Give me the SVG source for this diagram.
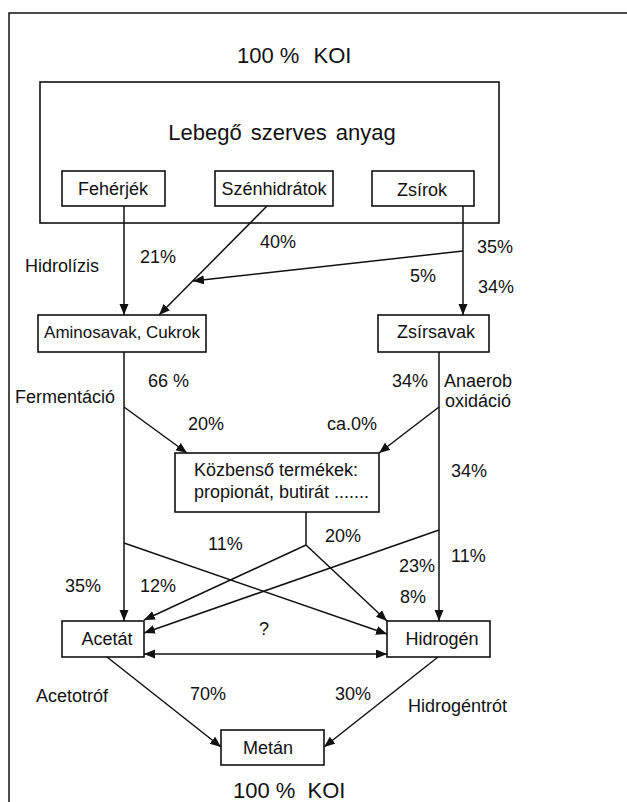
<svg xmlns="http://www.w3.org/2000/svg" width="627" height="802" viewBox="0 0 627 802">
<style>
text{font-family:"Liberation Sans",Arial,sans-serif;font-size:18px;fill:#111}
.box{fill:#fff;stroke:#111;stroke-width:1.6}
.ln{fill:none;stroke:#111;stroke-width:1.5}
.big{font-size:22px}
.mid{text-anchor:middle}
</style>
<defs>
<marker id="ah" markerUnits="userSpaceOnUse" markerWidth="12" markerHeight="10" refX="11" refY="4.5" orient="auto-start-reverse">
<path d="M0,0 L11,4.5 L0,9 z" fill="#111"/>
</marker>
</defs>
<rect width="627" height="802" fill="#fff"/>
<path class="ln" d="M9 802 V13 H627" stroke-width="1.8"/>
<text class="big" x="237" y="63">100 %<tspan dx="8"> KOI</tspan></text>
<g id="lebego">
<rect class="box" x="40" y="82" width="459" height="141"/>
<text class="big mid" x="282" y="140" word-spacing="3">Lebegő szerves anyag</text>
</g>
<g id="feherjek"><rect class="box" x="62" y="171" width="103" height="35"/><text class="mid" x="113" y="195">Fehérjék</text></g>
<g id="szenhidratok"><rect class="box" x="215" y="171" width="118" height="35"/><text class="mid" x="274" y="195">Szénhidrátok</text></g>
<g id="zsirok"><rect class="box" x="372" y="171" width="102" height="35"/><text class="mid" x="422" y="196">Zsírok</text></g>
<g id="aminosavak"><rect class="box" x="38" y="315" width="168" height="37"/><text class="mid" x="122" y="338" style="font-size:17px">Aminosavak, Cukrok</text></g>
<g id="zsirsavak"><rect class="box" x="378" y="315" width="111" height="37"/><text class="mid" x="436" y="338">Zsírsavak</text></g>
<g id="kozbenso"><rect class="box" x="175" y="453" width="204" height="59"/><text x="194" y="476">Közbenső termékek:</text><text x="194" y="498">propionát, butirát .......</text></g>
<g id="acetat"><rect class="box" x="62" y="621" width="82" height="36"/><text class="mid" x="107" y="645">Acetát</text></g>
<g id="hidrogen"><rect class="box" x="387" y="621" width="103" height="36"/><text class="mid" x="442" y="645">Hidrogén</text></g>
<g id="metan"><rect class="box" x="221" y="730" width="103" height="35"/><text class="mid" x="268" y="754">Metán</text></g>
<g id="connectors">
<path class="ln" d="M124 206 V315" marker-end="url(#ah)"/>
<path class="ln" d="M267 206 L159 315" marker-end="url(#ah)"/>
<path class="ln" d="M463 206 V315" marker-end="url(#ah)"/>
<path class="ln" d="M463 251 L193 281" marker-end="url(#ah)"/>
<path class="ln" d="M124 352 V621" marker-end="url(#ah)"/>
<path class="ln" d="M439 352 V621" marker-end="url(#ah)"/>
<path class="ln" d="M124 407 L187 453" marker-end="url(#ah)"/>
<path class="ln" d="M439 407 L379 453" marker-end="url(#ah)"/>
<path class="ln" d="M306 512 V545"/>
<path class="ln" d="M306 545 L144 620" marker-end="url(#ah)"/>
<path class="ln" d="M306 545 L387 621" marker-end="url(#ah)"/>
<path class="ln" d="M439 530 L144 633" marker-end="url(#ah)"/>
<path class="ln" d="M124 543 L387 634" marker-end="url(#ah)"/>
<path class="ln" d="M144 654 H387" marker-start="url(#ah)" marker-end="url(#ah)"/>
<path class="ln" d="M107 657 L221 747" marker-end="url(#ah)"/>
<path class="ln" d="M438 657 L324 747" marker-end="url(#ah)"/>
</g>
<g id="labels">
<text x="25" y="272">Hidrolízis</text>
<text x="140" y="263">21%</text>
<text x="260" y="248">40%</text>
<text x="477" y="253">35%</text>
<text x="410" y="282">5%</text>
<text x="478" y="293">34%</text>
<text x="148" y="387">66 %</text>
<text x="15" y="403">Fermentáció</text>
<text x="392" y="387">34%</text>
<text x="444" y="387">Anaerob</text>
<text x="445" y="407">oxidáció</text>
<text x="188" y="430">20%</text>
<text x="327" y="430">ca.0%</text>
<text x="451" y="477">34%</text>
<text x="208" y="550">11%</text>
<text x="325" y="542">20%</text>
<text x="399" y="572">23%</text>
<text x="451" y="562">11%</text>
<text x="65" y="592">35%</text>
<text x="140" y="592">12%</text>
<text x="400" y="603">8%</text>
<text x="259" y="635">?</text>
<text x="36" y="702">Acetotróf</text>
<text x="190" y="700">70%</text>
<text x="335" y="700">30%</text>
<text x="408" y="712">Hidrogéntrót</text>
<text class="big" x="233" y="798">100 %<tspan dx="6"> KOI</tspan></text>
</g>
</svg>
